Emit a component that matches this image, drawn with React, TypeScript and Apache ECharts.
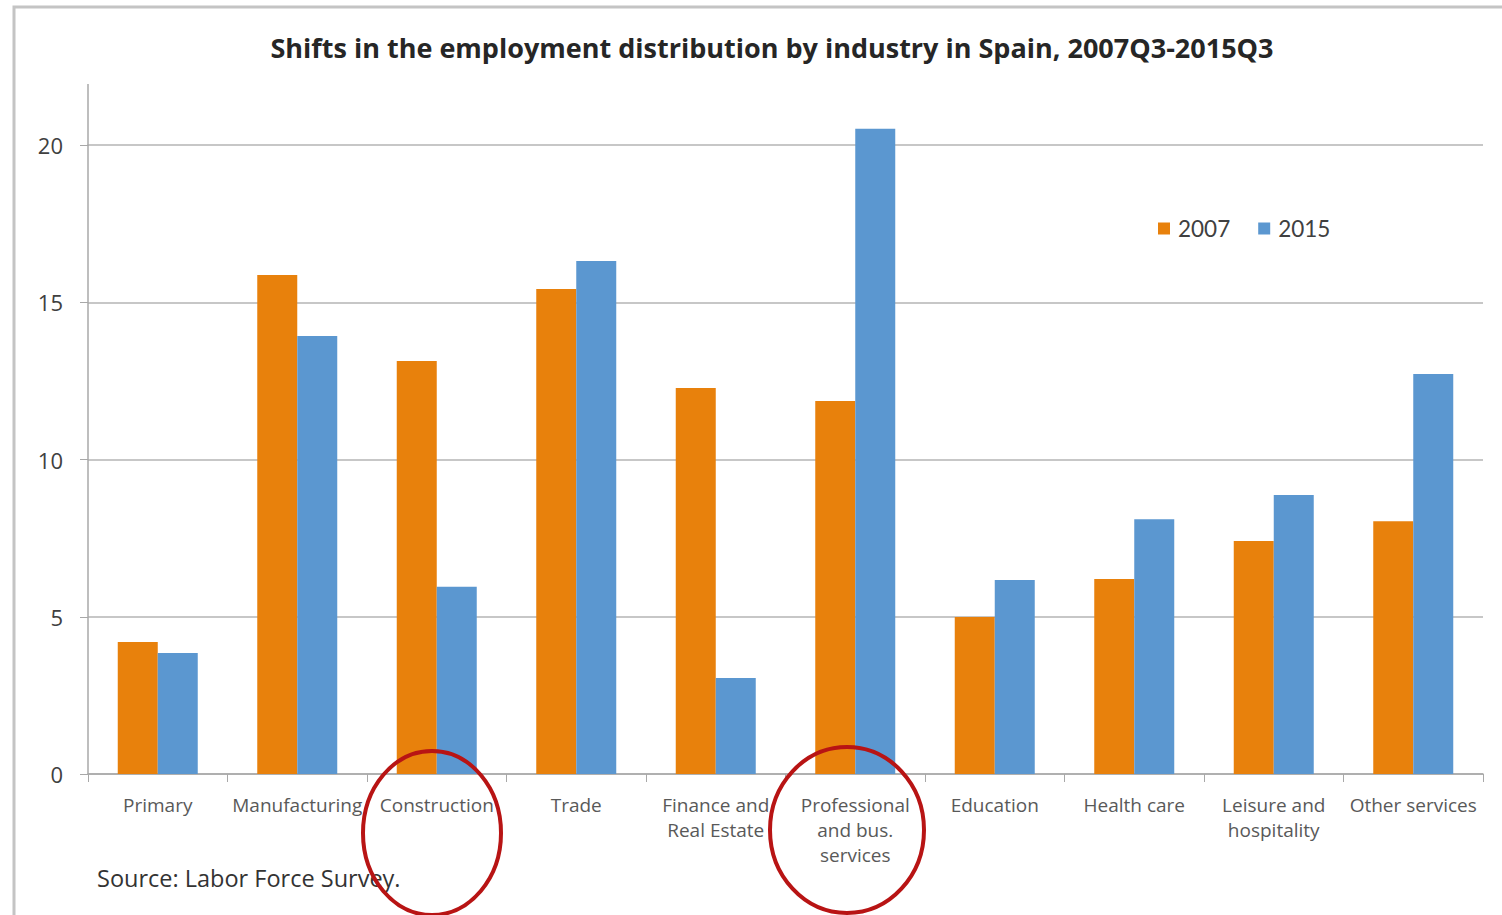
import React, { useEffect, useRef } from "react";
import * as echarts from "echarts";

const categories = [
  "Primary",
  "Manufacturing",
  "Construction",
  "Trade",
  "Finance and\nReal Estate",
  "Professional\nand bus.\nservices",
  "Education",
  "Health care",
  "Leisure and\nhospitality",
  "Other services",
];
const values2007 = [4.2, 15.87, 13.13, 15.42, 12.27, 11.86, 4.99, 6.2, 7.41, 8.04];
const values2015 = [3.85, 13.93, 5.95, 16.31, 3.05, 20.52, 6.17, 8.1, 8.87, 12.72];
const seriesNames = ["2007", "2015"];
const yTicks = [0, 5, 10, 15, 20];
const titleText = "Shifts in the employment distribution by industry in Spain, 2007Q3-2015Q3";
const sourceText = "Source: Labor Force Survey.";

const FONT = "'Open Sans', Lato, sans-serif";

export default function App() {
  const ref = useRef<HTMLDivElement>(null);
  useEffect(() => {
    if (!ref.current) return;
    const chart = echarts.init(ref.current, null, { renderer: "svg" });
    chart.setOption({
      animation: false,
      backgroundColor: "#ffffff",
      title: {
        text: titleText,
        left: 767,
        textAlign: "center",
        top: 29,
        textStyle: { fontFamily: FONT, fontSize: 27, fontWeight: "bold", color: "#262626" },
      },
      legend: {
        data: seriesNames,
        left: 1153,
        top: 212,
        itemWidth: 12,
        itemHeight: 12,
        itemGap: 28,
        icon: "rect",
        textStyle: { fontFamily: "Lato, sans-serif", fontSize: 22.5, color: "#404040", padding: [2, 0, 0, 3] },
      },
      grid: { left: 88, right: 19, top: 145, bottom: 141, containLabel: false },
      xAxis: {
        type: "category",
        data: categories,
        boundaryGap: true,
        axisLine: { lineStyle: { color: "#a8a8a8", width: 1.5 } },
        axisTick: { show: true, length: 8, lineStyle: { color: "#a8a8a8" } },
        axisLabel: {
          interval: 0,
          margin: 18,
          fontFamily: FONT,
          fontSize: 19,
          lineHeight: 25,
          color: "#595959",
        },
      },
      yAxis: {
        type: "value",
        min: yTicks[0],
        max: yTicks[yTicks.length - 1],
        interval: 5,
        axisLine: { show: true, lineStyle: { color: "#a8a8a8", width: 1.5 } },
        axisTick: { show: true, length: 8, lineStyle: { color: "#a8a8a8" } },
        splitLine: { show: true, lineStyle: { color: "#b4b4b4", width: 1.5 } },
        axisLabel: { fontFamily: FONT, fontSize: 22, color: "#404040", margin: 25 },
      },
      series: [
        {
          name: seriesNames[0],
          type: "bar",
          data: values2007,
          barWidth: 40,
          barGap: "0%",
          clip: false,
          itemStyle: { color: "#E8810C" },
        },
        {
          name: seriesNames[1],
          type: "bar",
          data: values2015,
          barWidth: 40,
          barGap: "0%",
          clip: false,
          itemStyle: { color: "#5B97D0" },
        },
      ],
      graphic: [
        {
          type: "polyline",
          shape: { points: [[14, 915], [14, 7], [1502, 7]] },
          style: { stroke: "#c4c4c4", lineWidth: 3, fill: null },
          silent: true,
        },
        {
          type: "line",
          shape: { x1: 88, y1: 84, x2: 88, y2: 146 },
          style: { stroke: "#a8a8a8", lineWidth: 1.5 },
          silent: true,
        },
        {
          type: "text",
          left: 97,
          top: 866,
          style: { text: sourceText, fontFamily: FONT, fontSize: 23.5, fill: "#333333" },
        },
        {
          type: "ellipse",
          shape: { cx: 432, cy: 833, rx: 69, ry: 82 },
          style: { stroke: "#B81414", lineWidth: 4, fill: null },
          z: 100,
        },
        {
          type: "ellipse",
          shape: { cx: 847, cy: 830, rx: 77, ry: 83 },
          style: { stroke: "#B81414", lineWidth: 4, fill: null },
          z: 100,
        },
      ],
    });
    return () => chart.dispose();
  }, []);
  return (
    <div
      ref={ref}
      style={{ position: "absolute", left: 0, top: 0, width: 1502, height: 915 }}
    />
  );
}
